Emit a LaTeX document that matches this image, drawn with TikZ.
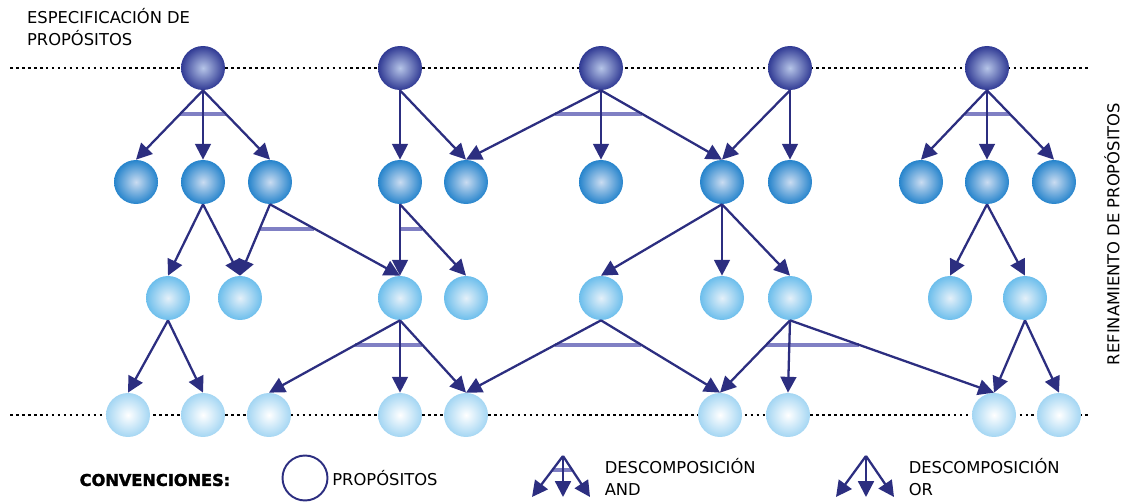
\documentclass[tikz,border=0pt]{standalone}
\usepackage{fontspec}
\setmainfont{DejaVu Sans}
\newfontfamily\heavyfont{DejaVu Sans}[BoldFeatures={FakeBold=2}]
\usepackage{xcolor}
\usepackage{tikz}
\usetikzlibrary{arrows.meta,calc}

\definecolor{navy}{RGB}{44,46,128}
\definecolor{barviolet}{RGB}{128,128,196}
\definecolor{specin}{RGB}{182,197,232}
\definecolor{specout}{RGB}{48,58,148}
\definecolor{refAin}{RGB}{202,220,241}
\definecolor{refAout}{RGB}{38,132,204}
\definecolor{refBin}{RGB}{228,240,249}
\definecolor{refBout}{RGB}{108,190,236}
\definecolor{refCin}{RGB}{255,255,255}
\definecolor{refCout}{RGB}{164,214,243}

\begin{document}
\begin{tikzpicture}[
  x=0.02cm, y=0.02cm,
  goal/.style={circle, minimum size=0.88cm, inner sep=0pt, shading=radial},
  spec/.style={goal, inner color=specin, outer color=specout},
  refA/.style={goal, inner color=refAin, outer color=refAout},
  refB/.style={goal, inner color=refBin, outer color=refBout},
  refC/.style={goal, inner color=refCin, outer color=refCout},
  arr/.style={draw=navy, line width=1.3pt, -{Triangle[length=9pt,width=9pt]}},
  andbar/.style={draw=barviolet, line width=2.2pt},
  guide/.style={line width=1.5pt, dash pattern=on 1.5pt off 1.9pt},
  txt/.style={font=\fontsize{9.3}{12.7}\selectfont, inner sep=0pt, align=left}
]
\useasboundingbox (0,0) rectangle (1147,504);

% Levels
\draw[guide] (10,436) -- (1090,436);
\draw[guide] (10,89) -- (1090,89);

% Specified goals
\node[spec] (t1) at (203,436) {};
\node[spec] (t2) at (400,436) {};
\node[spec] (t3) at (601,436) {};
\node[spec] (t4) at (790,436) {};
\node[spec] (t5) at (987,436) {};

% First refinement
\node[refA] (m1)  at (136,322)  {};
\node[refA] (m2)  at (203,322)  {};
\node[refA] (m3)  at (270,322)  {};
\node[refA] (m4)  at (400,322)  {};
\node[refA] (m5)  at (466,322)  {};
\node[refA] (m6)  at (601,322)  {};
\node[refA] (m7)  at (722,322)  {};
\node[refA] (m8)  at (790,322)  {};
\node[refA] (m9)  at (921,322)  {};
\node[refA] (m10) at (987,322)  {};
\node[refA] (m11) at (1054,322) {};

% Second refinement
\node[refB] (l1) at (168,206)  {};
\node[refB] (l2) at (240,206)  {};
\node[refB] (l3) at (400,206)  {};
\node[refB] (l4) at (466,206)  {};
\node[refB] (l5) at (601,206)  {};
\node[refB] (l6) at (722,206)  {};
\node[refB] (l7) at (790,206)  {};
\node[refB] (l8) at (950,206)  {};
\node[refB] (l9) at (1025,206) {};

% Operational goals
\node[refC] (f1) at (128,89)  {};
\node[refC] (f2) at (203,89)  {};
\node[refC] (f3) at (269,89)  {};
\node[refC] (f4) at (400,89)  {};
\node[refC] (f5) at (466,89)  {};
\node[refC] (f6) at (720,89)  {};
\node[refC] (f7) at (788,89)  {};
\node[refC] (f8) at (994,89)  {};
\node[refC] (f9) at (1059,89) {};

% AND bars
\draw[andbar] ($(t1.south)!0.34!(m1.north)$) -- ($(t1.south)!0.34!(m3.north)$);
\draw[andbar] ($(t3.south)!0.34!(m5.north)$) -- ($(t3.south)!0.34!(m7.north)$);
\draw[andbar] ($(t5.south)!0.34!(m9.north)$) -- ($(t5.south)!0.34!(m11.north)$);
\draw[andbar] ($(m3.south)!0.34!(l2.north)$) -- ($(m3.south)!0.34!(l3.north)$);
\draw[andbar] ($(m4.south)!0.34!(l3.north)$) -- ($(m4.south)!0.34!(l4.north)$);
\draw[andbar] ($(l3.south)!0.34!(f3.north)$) -- ($(l3.south)!0.34!(f5.north)$);
\draw[andbar] ($(l5.south)!0.34!(f5.north)$) -- ($(l5.south)!0.34!(f6.north)$);
\draw[andbar] ($(l7.south)!0.34!(f6.north)$) -- ($(l7.south)!0.34!(f8.north)$);

% Decompositions, first level
\draw[arr] (t1.south) -- (m1.north);
\draw[arr] (t1.south) -- (m2.north);
\draw[arr] (t1.south) -- (m3.north);
\draw[arr] (t2.south) -- (m4.north);
\draw[arr] (t2.south) -- (m5.north);
\draw[arr] (t3.south) -- (m5.north);
\draw[arr] (t3.south) -- (m6.north);
\draw[arr] (t3.south) -- (m7.north);
\draw[arr] (t4.south) -- (m7.north);
\draw[arr] (t4.south) -- (m8.north);
\draw[arr] (t5.south) -- (m9.north);
\draw[arr] (t5.south) -- (m10.north);
\draw[arr] (t5.south) -- (m11.north);

% Decompositions, second level
\draw[arr] (m2.south) -- (l1.north);
\draw[arr] (m2.south) -- (l2.north);
\draw[arr] (m3.south) -- (l2.north);
\draw[arr] (m3.south) -- (l3.north);
\draw[arr] (m4.south) -- (l3.north);
\draw[arr] (m4.south) -- (l4.north);
\draw[arr] (m7.south) -- (l5.north);
\draw[arr] (m7.south) -- (l6.north);
\draw[arr] (m7.south) -- (l7.north);
\draw[arr] (m10.south) -- (l8.north);
\draw[arr] (m10.south) -- (l9.north);

% Decompositions, third level
\draw[arr] (l1.south) -- (f1.north);
\draw[arr] (l1.south) -- (f2.north);
\draw[arr] (l3.south) -- (f3.north);
\draw[arr] (l3.south) -- (f4.north);
\draw[arr] (l3.south) -- (f5.north);
\draw[arr] (l5.south) -- (f5.north);
\draw[arr] (l5.south) -- (f6.north);
\draw[arr] (l7.south) -- (f6.north);
\draw[arr] (l7.south) -- (f7.north);
\draw[arr] (l7.south) -- (f8.north);
\draw[arr] (l9.south) -- (f8.north);
\draw[arr] (l9.south) -- (f9.north);

% Titles
\node[txt, anchor=west] (spectitle) at (26.7,477) {ESPECIFICACIÓN DE\\PROPÓSITOS};
\node[txt, rotate=90] (reftitle) at (1112,270) {REFINAMIENTO DE PROPÓSITOS};

% Legend
\node[txt, font=\fontsize{9.2}{12}\heavyfont\bfseries] (conv) at (155,24) {CONVENCIONES:};
\node[circle, draw=navy, line width=1.1pt, minimum size=0.9cm, inner sep=0pt] (keygoal) at (305,26) {};
\node[txt, anchor=west] (keygoaltxt) at (332,25.6) {PROPÓSITOS};

\coordinate (andtop) at (563,48);
\coordinate (andl) at (532,7);
\coordinate (andm) at (563,7);
\coordinate (andr) at (590,7);
\draw[andbar] ($(andtop)!0.34!(andl)$) -- ($(andtop)!0.34!(andr)$);
\draw[arr] (andtop) -- (andl);
\draw[arr] (andtop) -- (andm);
\draw[arr] (andtop) -- (andr);
\node[txt, anchor=west] (andtxt) at (604.4,27) {DESCOMPOSICIÓN\\AND};

\coordinate (ortop) at (866,48);
\coordinate (orl) at (836,7);
\coordinate (orm) at (866,7);
\coordinate (orr) at (894,7);
\draw[arr] (ortop) -- (orl);
\draw[arr] (ortop) -- (orm);
\draw[arr] (ortop) -- (orr);
\node[txt, anchor=west] (ortxt) at (908.4,27) {DESCOMPOSICIÓN\\OR};
\end{tikzpicture}
\end{document}
